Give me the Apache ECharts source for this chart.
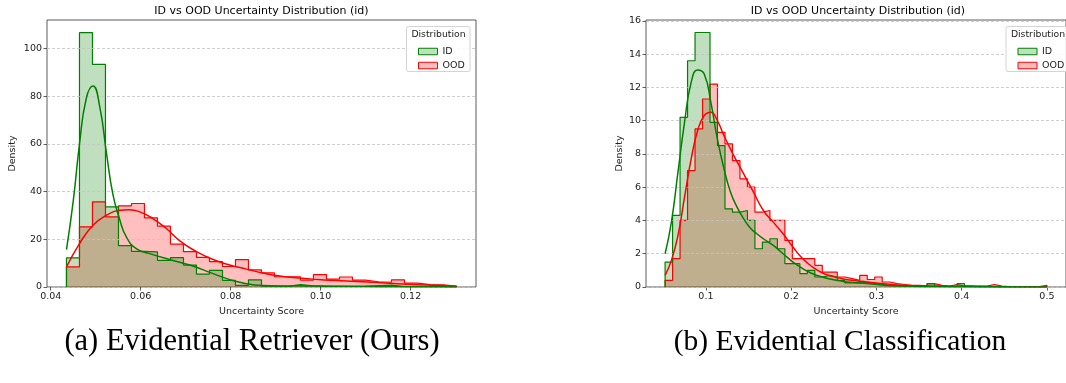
<!DOCTYPE html>
<html>
<head>
<meta charset="utf-8">
<title>ID vs OOD Uncertainty Distribution</title>
<script src="https://cdn.jsdelivr.net/npm/echarts@6/dist/echarts.min.js"></script>
<style>
    html, body { margin: 0; padding: 0; background: #fff; }
    #chart { width: 1066px; height: 383px; }
</style>
</head>
<body>
<div id="chart"></div>
<script>
// ---- (a) Evidential Retriever: density histograms, 30 common bins ----
var leftRange = [0.0435, 0.1302];
var leftId = [12.2, 106.6, 93.3, 33.6, 17.3, 14.9, 14.7, 11.2, 12.3, 9.2,
              5.4, 7.0, 2.8, 0.7, 3.0, 0.4, 0.3, 1.0, 0.5, 0.3,
              0.3, 0.2, 0.3, 0.6, 0.8, 0.2, 0.2, 0.1, 0.1, 0.1];
var leftOod = [8.4, 25.2, 35.7, 29.4, 34.0, 35.0, 29.0, 25.5, 18.0, 14.8,
               12.4, 10.6, 8.6, 11.5, 7.2, 5.9, 4.3, 4.3, 2.9, 5.2,
               3.3, 4.2, 2.9, 2.2, 2.0, 3.0, 1.6, 1.0, 0.9, 0.4];
// KDE curves as [score, density]
var leftIdKde = [[0.0435, 15.7], [0.0450, 36.0], [0.0464, 60.0], [0.0479, 79.0],
                 [0.0494, 84.2], [0.0509, 75.5], [0.0524, 56.0], [0.0538, 39.0],
                 [0.0553, 28.5], [0.0568, 21.0], [0.0590, 16.1], [0.0620, 14.0], [0.0664, 11.5],
                 [0.0709, 9.2], [0.0761, 5.6], [0.0798, 3.1], [0.0835, 1.4],
                 [0.0871, 0.6], [0.0909, 0.4], [0.0946, 0.5], [0.0998, 0.4], [0.1064, 0.3],
                 [0.1131, 0.25], [0.1198, 0.15], [0.1264, 0.08], [0.1302, 0.05]];
var leftOodKde = [[0.0435, 8.4], [0.0464, 18.2], [0.0494, 25.9], [0.0524, 30.1], [0.0553, 32.2],
                  [0.0575, 32.4], [0.0598, 31.5], [0.0627, 28.7], [0.0657, 24.5], [0.0687, 19.3],
                  [0.0724, 14.8], [0.0761, 11.5], [0.0798, 9.2], [0.0835, 7.5], [0.0871, 5.9],
                  [0.0909, 4.6], [0.0946, 3.9], [0.0983, 3.3], [0.1020, 2.8], [0.1116, 2.0],
                  [0.1190, 1.2], [0.1264, 0.6], [0.1302, 0.3]];
var leftXTicks = [0.04, 0.06, 0.08, 0.10, 0.12];
var leftYTicks = [0, 20, 40, 60, 80, 100];

// ---- (b) Evidential Classification: 51 common bins ----
var rightRange = [0.0521, 0.5];
var rightId = [1.5, 4.3, 10.2, 13.6, 15.3, 15.3, 9.9, 8.5, 4.7, 4.5,
               4.6, 4.0, 2.3, 2.7, 2.9, 2.3, 1.4, 1.4, 0.8, 1.0,
               0.6, 0.7, 0.6, 0.4, 0.25, 0.25, 0.3, 0.2, 0.15, 0.1,
               0.1, 0.05, 0.05, 0.05, 0.05, 0.2, 0.05, 0.02, 0.02, 0.2,
               0.05, 0, 0.02, 0.02, 0, 0.02, 0, 0, 0, 0, 0];
var rightOod = [0.4, 1.7, 4.0, 7.0, 9.5, 11.3, 12.2, 9.3, 8.6, 7.6,
                6.5, 6.0, 4.5, 4.6, 4.0, 4.0, 2.8, 1.7, 1.7, 1.7,
                1.3, 0.9, 0.9, 0.6, 0.5, 0.4, 0.7, 0.45, 0.6, 0.3,
                0.2, 0.15, 0.1, 0.1, 0.05, 0.2, 0.1, 0.05, 0.15, 0.05,
                0.05, 0.05, 0.05, 0.15, 0.05, 0.02, 0.02, 0.02, 0, 0.02, 0.1];
var rightIdKde = [[0.0521, 2.0], [0.0595, 3.9], [0.0672, 6.9], [0.0749, 9.9], [0.0827, 12.3],
                  [0.0903, 13.05], [0.0980, 12.8], [0.1058, 11.1], [0.1134, 8.9],
                  [0.1212, 7.1], [0.1289, 5.7], [0.1365, 4.8], [0.1443, 4.1], [0.1520, 3.55],
                  [0.1597, 3.2], [0.1674, 2.9], [0.1790, 2.5], [0.1905, 2.0], [0.2021, 1.5],
                  [0.2136, 1.1], [0.2252, 0.8], [0.2368, 0.6], [0.2483, 0.45], [0.2599, 0.35],
                  [0.2715, 0.28], [0.2830, 0.24], [0.2946, 0.18], [0.3269, 0.06], [0.3697, 0.03],
                  [0.4390, 0.01], [0.5000, 0.0]];
var rightOodKde = [[0.0521, 0.7], [0.0595, 1.6], [0.0672, 3.1], [0.0749, 5.4], [0.0827, 7.7],
                   [0.0903, 9.4], [0.0980, 10.3], [0.1058, 10.5], [0.1134, 10.0], [0.1212, 9.1],
                   [0.1327, 7.9], [0.1443, 6.8], [0.1558, 5.7], [0.1674, 4.6], [0.1790, 3.9],
                   [0.1905, 3.2], [0.2021, 2.4], [0.2136, 1.7], [0.2252, 1.2], [0.2368, 0.84],
                   [0.2483, 0.64], [0.2599, 0.5], [0.2715, 0.4], [0.2830, 0.34], [0.2946, 0.27],
                   [0.3235, 0.12], [0.3580, 0.06], [0.4044, 0.04], [0.4507, 0.02], [0.5000, 0.01]];
var rightXTicks = [0.1, 0.2, 0.3, 0.4, 0.5];
var rightYTicks = [0, 2, 4, 6, 8, 10, 12, 14, 16];

var GREEN = '#008000';
var RED = '#ff0000';
var GREEN_FILL = 'rgba(0,128,0,0.25)';
var RED_FILL = 'rgba(255,0,0,0.25)';
var FONT = 'DejaVu Sans';

// outline of a step histogram: left wall, tops, right wall
function stepData(range, heights) {
    var n = heights.length;
    var w = (range[1] - range[0]) / n;
    var pts = [[range[0], 0]];
    heights.forEach(function (h, i) {
        pts.push([range[0] + i * w, h]);
    });
    pts.push([range[1], heights[n - 1]]);
    pts.push([range[1], 0]);
    return pts;
}

function histSeries(name, idx, data, color, fill) {
    return {
        name: name,
        type: 'line',
        xAxisIndex: idx,
        yAxisIndex: idx,
        step: 'end',
        symbol: 'none',
        z: 1,
        lineStyle: {color: color, width: 1.2},
        itemStyle: {color: color},
        areaStyle: {color: fill, opacity: 1},
        data: data
    };
}

function kdeSeries(name, idx, data, color) {
    return {
        name: name,
        type: 'line',
        xAxisIndex: idx,
        yAxisIndex: idx,
        smooth: 0.5,
        symbol: 'none',
        z: 5,
        lineStyle: {color: color, width: 1.5},
        data: data
    };
}

function xAxis(idx, min, max, ticks, digits) {
    return {
        gridIndex: idx,
        type: 'value',
        min: min,
        max: max,
        splitLine: {show: false},
        axisLine: {show: false},
        axisTick: {show: true, length: 3.5, customValues: ticks, lineStyle: {color: '#333', width: 0.8}},
        axisLabel: {
            customValues: ticks,
            formatter: function (v) { return v.toFixed(digits); },
            fontFamily: FONT, fontSize: 9.5, color: '#222', margin: 5
        },
        name: 'Uncertainty Score',
        nameLocation: 'middle',
        nameGap: 19,
        nameTextStyle: {fontFamily: FONT, fontSize: 9.5, color: '#222'}
    };
}

function yAxis(idx, max, interval, ticks, gap) {
    return {
        gridIndex: idx,
        type: 'value',
        min: 0,
        max: max,
        interval: interval,
        z: 3,
        axisLine: {show: false},
        axisTick: {show: true, length: 3.5, customValues: ticks, lineStyle: {color: '#333', width: 0.8}},
        axisLabel: {customValues: ticks, fontFamily: FONT, fontSize: 9.5, color: '#222', margin: 5},
        splitLine: {show: true, lineStyle: {color: '#c4c4c4', type: [3, 2], width: 0.8}},
        name: 'Density',
        nameLocation: 'middle',
        nameGap: gap,
        nameTextStyle: {fontFamily: FONT, fontSize: 9.5, color: '#222'}
    };
}

function legendFor(left) {
    return {
        show: true,
        selectedMode: false,
        orient: 'vertical',
        left: left,
        top: 41,
        icon: 'rect',
        itemWidth: 19,
        itemHeight: 6.5,
        itemGap: 3,
        z: 20,
        textStyle: {fontFamily: FONT, fontSize: 9.5, color: '#222', lineHeight: 11},
        data: [
            {name: 'ID', itemStyle: {color: GREEN_FILL, borderColor: GREEN, borderWidth: 1}},
            {name: 'OOD', itemStyle: {color: RED_FILL, borderColor: RED, borderWidth: 1}}
        ]
    };
}

function legendBox(x) {
    return [
        {
            type: 'rect', z: 15,
            shape: {x: x, y: 26.5, width: 63.5, height: 45, r: 2},
            style: {fill: 'rgba(255,255,255,0.85)', stroke: '#d4d4d4', lineWidth: 1}
        },
        {
            type: 'text', z: 16,
            style: {x: x + 32, y: 34.5, text: 'Distribution', align: 'center', verticalAlign: 'middle',
                    fontFamily: FONT, fontSize: 9.3, fill: '#222'}
        }
    ];
}

function label(x, y, text, size, family) {
    return {
        type: 'text', z: 16,
        style: {x: x, y: y, text: text, align: 'center', verticalAlign: 'middle',
                fontFamily: family, fontSize: size, fill: '#000'}
    };
}

var option = {
    animation: false,
    backgroundColor: '#fff',
    grid: [
        {left: 47, top: 20, width: 429, height: 267, show: true, borderColor: '#333', borderWidth: 0.8},
        {left: 646, top: 20, width: 426, height: 267, show: true, borderColor: '#333', borderWidth: 0.8}
    ],
    xAxis: [
        xAxis(0, 0.03917, 0.13454, leftXTicks, 2),
        xAxis(1, 0.0297, 0.5224, rightXTicks, 1)
    ],
    yAxis: [
        yAxis(0, 111.9, 20, leftYTicks, 29),
        yAxis(1, 16.05, 2, rightYTicks, 20)
    ],
    legend: [legendFor(413), legendFor(1012.5)],
    graphic: [].concat(
        legendBox(406.5),
        legendBox(1006),
        [
            label(261.5, 11, 'ID vs OOD Uncertainty Distribution (id)', 11, FONT),
            label(858, 11, 'ID vs OOD Uncertainty Distribution (id)', 11, FONT),
            label(252, 342, '(a) Evidential Retriever (Ours)', 30.5, 'Liberation Serif'),
            label(840, 342, '(b) Evidential Classification', 29.5, 'Liberation Serif')
        ]
    ),
    series: [
        histSeries('OOD', 0, stepData(leftRange, leftOod), RED, RED_FILL),
        histSeries('ID', 0, stepData(leftRange, leftId), GREEN, GREEN_FILL),
        kdeSeries('OOD kde', 0, leftOodKde, RED),
        kdeSeries('ID kde', 0, leftIdKde, GREEN),
        histSeries('OOD', 1, stepData(rightRange, rightOod), RED, RED_FILL),
        histSeries('ID', 1, stepData(rightRange, rightId), GREEN, GREEN_FILL),
        kdeSeries('OOD kde', 1, rightOodKde, RED),
        kdeSeries('ID kde', 1, rightIdKde, GREEN)
    ]
};

var myChart = echarts.init(document.getElementById('chart'), null, {renderer: 'canvas'});
myChart.setOption(option);
</script>
</body>
</html>
